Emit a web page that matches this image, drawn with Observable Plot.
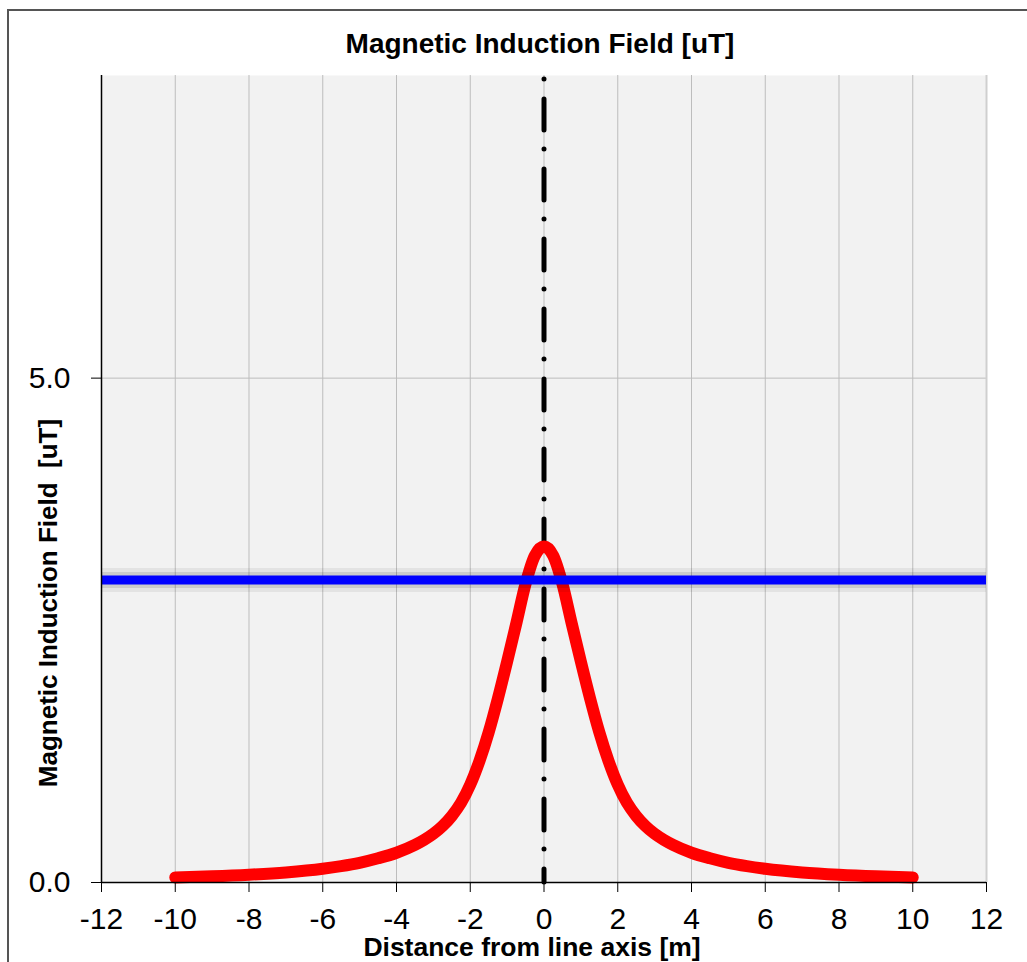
<!DOCTYPE html>
<html>
<head>
<meta charset="utf-8">
<script src="https://cdn.jsdelivr.net/npm/d3@7"></script>
<script src="https://cdn.jsdelivr.net/npm/@observablehq/plot@0.6"></script>
<style>
  html, body { margin: 0; padding: 0; background: #fff; overflow: hidden; }
  body { width: 1027px; height: 962px; position: relative; font-family: "Liberation Sans", Arial, sans-serif; }
  #border { position: absolute; left: 7px; top: 9px; width: 1100px; height: 1000px;
            border-left: 2px solid #555; border-top: 2px solid #555; z-index: 0; }
  #title { position: relative; z-index: 1; box-sizing: border-box; height: 62px; padding-top: 30px;
           width: 1080px; text-align: center; font-size: 28px; line-height: 1; font-weight: bold; color: #000; }
  #chart { position: relative; z-index: 1; }
</style>
</head>
<body>
<div id="border"></div>
<div id="title">Magnetic Induction Field [uT]</div>
<div id="chart"></div>
<script>
// Distance from line axis [m]
const distance = [-10, -9, -8, -7, -6, -5.5, -5, -4.5, -4, -3.5, -3.25, -3, -2.75, -2.5, -2.25, -2, -1.75, -1.5, -1.25, -1, -0.75, -0.5, -0.25,
                  0, 0.25, 0.5, 0.75, 1, 1.25, 1.5, 1.75, 2, 2.25, 2.5, 2.75, 3, 3.25, 3.5, 4, 4.5, 5, 5.5, 6, 7, 8, 9, 10];
// Magnetic induction field [uT]
const field = [0.05, 0.061, 0.077, 0.10, 0.136, 0.162, 0.195, 0.24, 0.295, 0.373, 0.423, 0.483, 0.56, 0.66, 0.79, 0.97, 1.205, 1.49, 1.825, 2.19, 2.57, 2.96, 3.24,
               3.33, 3.24, 2.96, 2.57, 2.19, 1.825, 1.49, 1.205, 0.97, 0.79, 0.66, 0.56, 0.483, 0.423, 0.373, 0.295, 0.24, 0.195, 0.162, 0.136, 0.10, 0.077, 0.061, 0.05];
const limitValue = 3.0;
const axisPosition = 0;
const xTicks = [-12, -10, -8, -6, -4, -2, 0, 2, 4, 6, 8, 10, 12];
const yTicks = [0, 5];
const xDomain = [-12, 12];
const yDomain = [0, 8];
const xLabel = "Distance from line axis [m]";
const yLabel = "Magnetic Induction Field  [uT]";

const data = distance.map((d, i) => ({x: d, y: field[i]}));

const plot = Plot.plot({
  width: 1027,
  height: 900,
  marginLeft: 101,
  marginRight: 41,
  marginTop: 13,
  marginBottom: 80,
  style: {fontFamily: '"Liberation Sans", Arial, sans-serif', background: "transparent", color: "#000"},
  x: {domain: xDomain},
  y: {domain: yDomain},
  marks: [
    Plot.frame({fill: "#f2f2f2", stroke: null}),
    Plot.gridX(xTicks.filter(t => t > -12 && t < 12), {stroke: "#bdbdbd", strokeOpacity: 1, strokeWidth: 1}),
    Plot.gridY(yTicks.filter(t => t > 0), {stroke: "#bdbdbd", strokeOpacity: 1, strokeWidth: 1}),
    Plot.ruleX([xDomain[1]], {stroke: "#cfcfcf", strokeWidth: 2}),
    Plot.ruleX([axisPosition], {stroke: "#000", strokeWidth: 5, strokeDasharray: "0,20,31,19", strokeDashoffset: -4, strokeLinecap: "round"}),
    Plot.line(data, {x: "x", y: "y", stroke: "#ff0000", strokeWidth: 12, curve: "monotone-x", strokeLinecap: "round", strokeLinejoin: "round"}),
    Plot.ruleY([limitValue], {stroke: "#000", strokeOpacity: 0.06, strokeWidth: 24}),
    Plot.ruleY([limitValue], {stroke: "#000", strokeOpacity: 0.1, strokeWidth: 16}),
    Plot.ruleY([limitValue], {stroke: "#0000ff", strokeWidth: 9}),
    Plot.ruleX([xDomain[0]], {stroke: "#000", strokeWidth: 1.5}),
    Plot.ruleY([yDomain[0]], {stroke: "#000", strokeWidth: 1.5}),
    Plot.axisX({ticks: xTicks, tickSize: 10, tickPadding: 15, fontSize: 30, label: null, tickFormat: d => String(d).replace("−", "-")}),
    Plot.axisY({ticks: yTicks, tickSize: 10, tickPadding: 21, fontSize: 30, label: null, tickFormat: d => d.toFixed(1)}),
    Plot.text([xLabel], {frameAnchor: "bottom", lineAnchor: "bottom", textAnchor: "middle", dy: 73, dx: -12, fontSize: 26.5, fontWeight: "bold", fill: "#000"}),
    Plot.text([yLabel], {frameAnchor: "left", rotate: -90, textAnchor: "middle", lineAnchor: "middle", dx: -53, dy: 124, fontSize: 26, fontWeight: "bold", fill: "#000"})
  ]
});
document.getElementById("chart").appendChild(plot);
</script>
</body>
</html>
